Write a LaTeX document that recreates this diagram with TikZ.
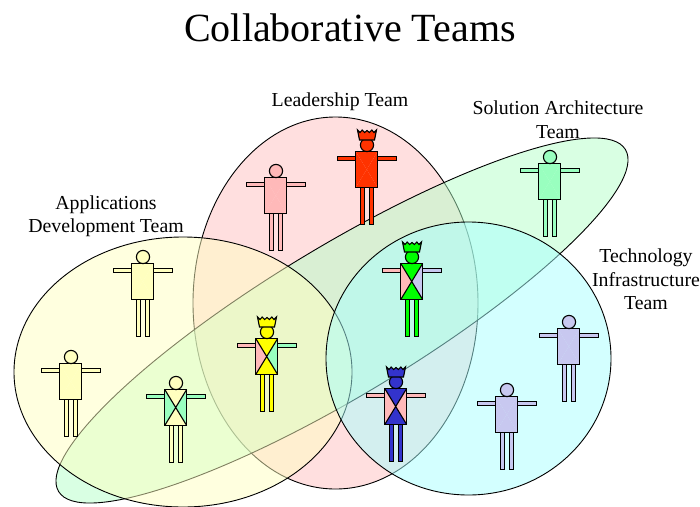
\documentclass[tikz,border=0pt]{standalone}
\usepackage{fontspec}
\setmainfont{Liberation Serif}
\definecolor{leadfill}{HTML}{FFC0C0}
\definecolor{appsfill}{HTML}{FFFFC0}
\definecolor{archfill}{HTML}{B3FFC8}
\definecolor{techfill}{HTML}{A8FFFF}
\definecolor{pinkp}{HTML}{FFB9B9}
\definecolor{yellowp}{HTML}{FFFFBF}
\definecolor{greenp}{HTML}{99FFBF}
\definecolor{lavp}{HTML}{C8C8F0}
\definecolor{redp}{HTML}{FF3300}
\definecolor{goldp}{HTML}{FFFF00}
\definecolor{limep}{HTML}{00FF00}
\definecolor{bluep}{HTML}{3333CC}
\tikzset{
  team/.style={draw=black, line width=0.9pt, fill opacity=0.5},
  label/.style={align=center, font=\fontsize{19.8}{23.5}\selectfont},
  part/.style={draw=black, line width=1.1pt, line join=miter}
}
\begin{document}
\begin{tikzpicture}[x=1pt,y=-1pt]
  \useasboundingbox (0,0) rectangle (700,506);

  % Draw team ellipses
  \clip (0,0) rectangle (700,506);
  \draw[team, fill=leadfill] (335.5,303) ellipse [x radius=142.5, y radius=186];
  \draw[team, fill=archfill] (342,320.5) ellipse [x radius=331, y radius=74.5, rotate=31.1];
  \draw[team, fill=appsfill] (183,372) ellipse [x radius=169, y radius=135];
  \draw[team, fill=techfill] (468.5,358.5) ellipse [x radius=142.5, y radius=136.5];

  % Draw texts
  \node[font=\fontsize{40}{42}\selectfont] (title) at (350,28) {Collaborative Teams};
  \node[label] (lead) at (340,102) {Leadership Team};
  \node[label] (arch) at (558,119.5) {Solution Architecture\\Team};
  \node[label] (apps) at (106,216) {Applications\\Development Team};
  \node[label] (tech) at (646,279.5) {Technology\\Infrastructure\\Team};

  % Loop over people: head position, top/bottom, left, right, left arm, right arm, head and legs
  \foreach \x/\y/\tb/\lf/\rt/\al/\ar/\hd in {
    276/171/pinkp/pinkp/pinkp/pinkp/pinkp/pinkp,
    367/145/redp/redp/redp/redp/redp/redp,
    143/257/yellowp/yellowp/yellowp/yellowp/yellowp/yellowp,
    71/357/yellowp/yellowp/yellowp/yellowp/yellowp/yellowp,
    176/383/yellowp/greenp/greenp/greenp/greenp/yellowp,
    267/332/goldp/pinkp/greenp/pinkp/greenp/goldp,
    550/157/greenp/greenp/greenp/greenp/greenp/greenp,
    412/257/limep/pinkp/lavp/pinkp/lavp/limep,
    396/382/bluep/pinkp/pinkp/pinkp/pinkp/bluep,
    569/322/lavp/lavp/lavp/lavp/lavp/lavp,
    507/390/lavp/lavp/lavp/lavp/lavp/lavp}
  {
    \begin{scope}[shift={(\x,\y)}]
      % Draw legs and arms
      \draw[part, fill=\hd] (-6.8,42.4) rectangle (-2.5,79.4);
      \draw[part, fill=\hd] (2.2,42.4) rectangle (6.5,79.4);
      \draw[part, fill=\al] (-29.4,11.4) rectangle (-11.2,15.6);
      \draw[part, fill=\ar] (10.6,11.4) rectangle (29.4,15.6);
      % Draw body
      \fill[fill=\lf] (-11.2,6.6) -- (-0.3,24.5) -- (-11.2,42.4) -- cycle;
      \fill[fill=\rt] (10.6,6.6) -- (-0.3,24.5) -- (10.6,42.4) -- cycle;
      \fill[fill=\tb] (-11.2,6.6) -- (10.6,6.6) -- (-0.3,24.5) -- cycle;
      \fill[fill=\tb] (-11.2,42.4) -- (10.6,42.4) -- (-0.3,24.5) -- cycle;
      \ifx\lf\tb\else
        \draw[part] (-11.2,6.6) -- (10.6,42.4) (10.6,6.6) -- (-11.2,42.4);
      \fi
      \draw[part] (-11.2,6.6) rectangle (10.6,42.4);
      % Draw head
      \draw[part, fill=\hd] (0,0) circle (6.6);
    \end{scope}
  }

  % Draw crowns
  \foreach \x/\y/\cr in {367/145/redp, 267/332/goldp, 412/257/limep, 396/382/bluep}
  {
    \draw[part, fill=\cr, shift={(\x,\y)}] (-7.5,-5) -- (-9.5,-15) -- (-7,-12.5) -- (-4.8,-15) -- (-2.4,-12.5) -- (0,-14.5) -- (2.4,-12.5) -- (4.8,-15) -- (7,-12.5) -- (9.5,-15) -- (7.5,-5) -- cycle;
  }
\end{tikzpicture}
\end{document}
